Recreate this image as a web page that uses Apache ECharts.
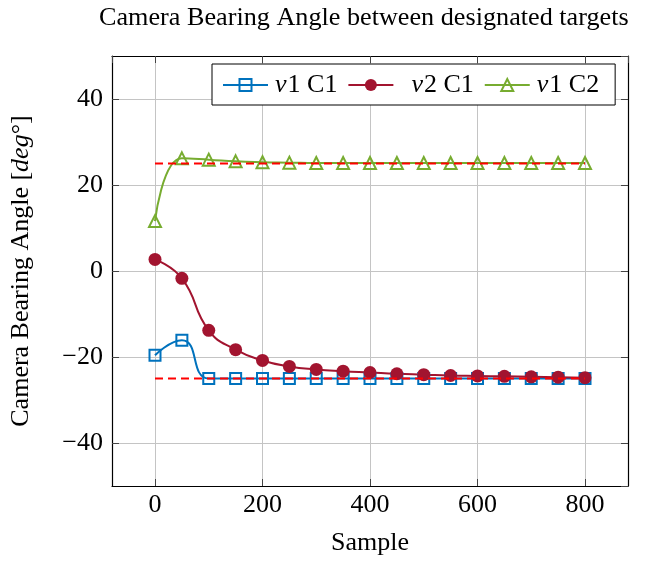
<!DOCTYPE html>
<html><head><meta charset="utf-8">
<script src="https://cdn.jsdelivr.net/npm/echarts@6/dist/echarts.min.js"></script>
<style>html,body{margin:0;padding:0;background:#fff}#c{width:646px;height:561px}</style>
</head><body><div id="c"></div>
<script>
const samples = [0,50,100,150,200,250,300,350,400,450,500,550,600,650,700,750,800];
const v1C1 = [-19.6,-16.1,-25,-25,-25,-25,-25,-25,-25,-25,-25,-25,-25,-25,-25,-25,-25];
const v2C1 = [2.7,-1.7,-13.8,-18.3,-20.8,-22.2,-22.9,-23.3,-23.6,-23.9,-24.1,-24.3,-24.4,-24.5,-24.6,-24.7,-24.8];
const v1C2 = [11.6,26.2,25.9,25.5,25.3,25.2,25.1,25.1,25.1,25.1,25.1,25.1,25.1,25.1,25.1,25.1,25.1];
const refX = [0,800];
const refUpper = [25,25];
const refLower = [-25,-25];

const FONT = 'Liberation Serif';
const BLUE = '#0072BD', RED = '#A2142F', GREEN = '#77AC30';
const pairs = (xs, ys) => xs.map((x, i) => [x, ys[i]]);
const fmt = v => (v < 0 ? '−' + Math.abs(v) : String(v));

const chart = echarts.init(document.getElementById('c'), null, {renderer: 'canvas'});
const grid = {left: 110, top: 56, right: 18, bottom: 75};
const tickStyle = {show: true, inside: true, length: 7, lineStyle: {color: '#444', width: 1}};
const frameLine = {show: true, onZero: false, lineStyle: {color: '#000', width: 1.2}};

chart.setOption({
  backgroundColor: '#fff',
  animation: false,
  title: {
    text: 'Camera Bearing Angle between designated targets',
    left: 94, top: 0,
    textStyle: {fontFamily: FONT, fontSize: 26.2, fontWeight: 'normal', color: '#000'}
  },
  grid: grid,
  legend: {
    data: ['v1 C1', 'v2 C1', 'v1 C2'],
    left: 212, top: 64,
    backgroundColor: '#fff',
    borderColor: '#000', borderWidth: 1, borderRadius: 0,
    padding: [8, 16, 7, 10],
    itemWidth: 45, itemHeight: 15, itemGap: 10,
    formatter: name => (name === 'v2 C1' ? '{p|}' : '') + '{i|' + name[0] + '}{r|' + name.slice(1) + '}',
    textStyle: {
      fontFamily: FONT, fontSize: 26, color: '#000',
      rich: {
        p: {width: 11, fontSize: 26},
        i: {fontFamily: FONT, fontSize: 26, fontStyle: 'italic', color: '#000', padding: [0, 1, 0, 2]},
        r: {fontFamily: FONT, fontSize: 26, color: '#000', padding: [0, 2, 0, 0]}
      }
    }
  },
  xAxis: [{
    type: 'value', min: -80, max: 880, splitNumber: 5,
    name: 'Sample', nameLocation: 'middle', nameGap: 44,
    nameTextStyle: {fontFamily: FONT, fontSize: 26, color: '#000'},
    axisLine: frameLine, axisTick: tickStyle,
    axisLabel: {fontFamily: FONT, fontSize: 26, color: '#000', margin: 6,
      showMinLabel: false, showMaxLabel: false, formatter: fmt},
    splitLine: {show: true, lineStyle: {color: '#c4c4c4', width: 1}}
  }, {
    type: 'value', min: -80, max: 880, splitNumber: 5, position: 'top',
    axisLine: frameLine, axisTick: tickStyle, axisLabel: {show: false}, splitLine: {show: false}
  }],
  yAxis: [{
    type: 'value', min: -50, max: 50, splitNumber: 5,
    name: '{r|Camera Bearing Angle [}{i|deg}{r|°]}',
    nameLocation: 'middle', nameGap: 78,
    nameTextStyle: {fontFamily: FONT, fontSize: 26, color: '#000',
      rich: {
        r: {fontFamily: FONT, fontSize: 26, color: '#000'},
        i: {fontFamily: FONT, fontSize: 26, fontStyle: 'italic', color: '#000'}
      }},
    axisLine: frameLine, axisTick: tickStyle,
    axisLabel: {fontFamily: FONT, fontSize: 26, color: '#000', margin: 9,
      showMinLabel: false, showMaxLabel: false, formatter: fmt},
    splitLine: {show: true, lineStyle: {color: '#c4c4c4', width: 1}}
  }, {
    type: 'value', min: -50, max: 50, splitNumber: 5, position: 'right',
    axisLine: frameLine, axisTick: tickStyle, axisLabel: {show: false}, splitLine: {show: false}
  }],
  series: [{
    name: 'v1 C1', type: 'line', smooth: 0.55,
    data: pairs(samples, v1C1),
    symbol: 'rect', symbolSize: 11,
    lineStyle: {color: BLUE, width: 2},
    itemStyle: {color: 'rgba(255,255,255,0)', borderColor: BLUE, borderWidth: 2}
  }, {
    name: 'v2 C1', type: 'line', smooth: 0.5,
    data: pairs(samples, v2C1),
    symbol: 'circle', symbolSize: 13,
    lineStyle: {color: RED, width: 2},
    itemStyle: {color: RED, borderColor: RED, borderWidth: 0}
  }, {
    name: 'v1 C2', type: 'line', smooth: 0.5,
    data: pairs(samples, v1C2),
    symbol: 'triangle', symbolSize: 12,
    lineStyle: {color: GREEN, width: 2},
    itemStyle: {color: 'rgba(255,255,255,0)', borderColor: GREEN, borderWidth: 2}
  }, {
    name: 'ref+', type: 'line', data: pairs(refX, refUpper), symbol: 'none', z: 5,
    lineStyle: {color: '#ff0000', width: 2, type: [8, 5]}
  }, {
    name: 'ref-', type: 'line', data: pairs(refX, refLower), symbol: 'none', z: 5,
    lineStyle: {color: '#ff0000', width: 2, type: [8, 5]}
  }]
});
</script>
</body></html>
